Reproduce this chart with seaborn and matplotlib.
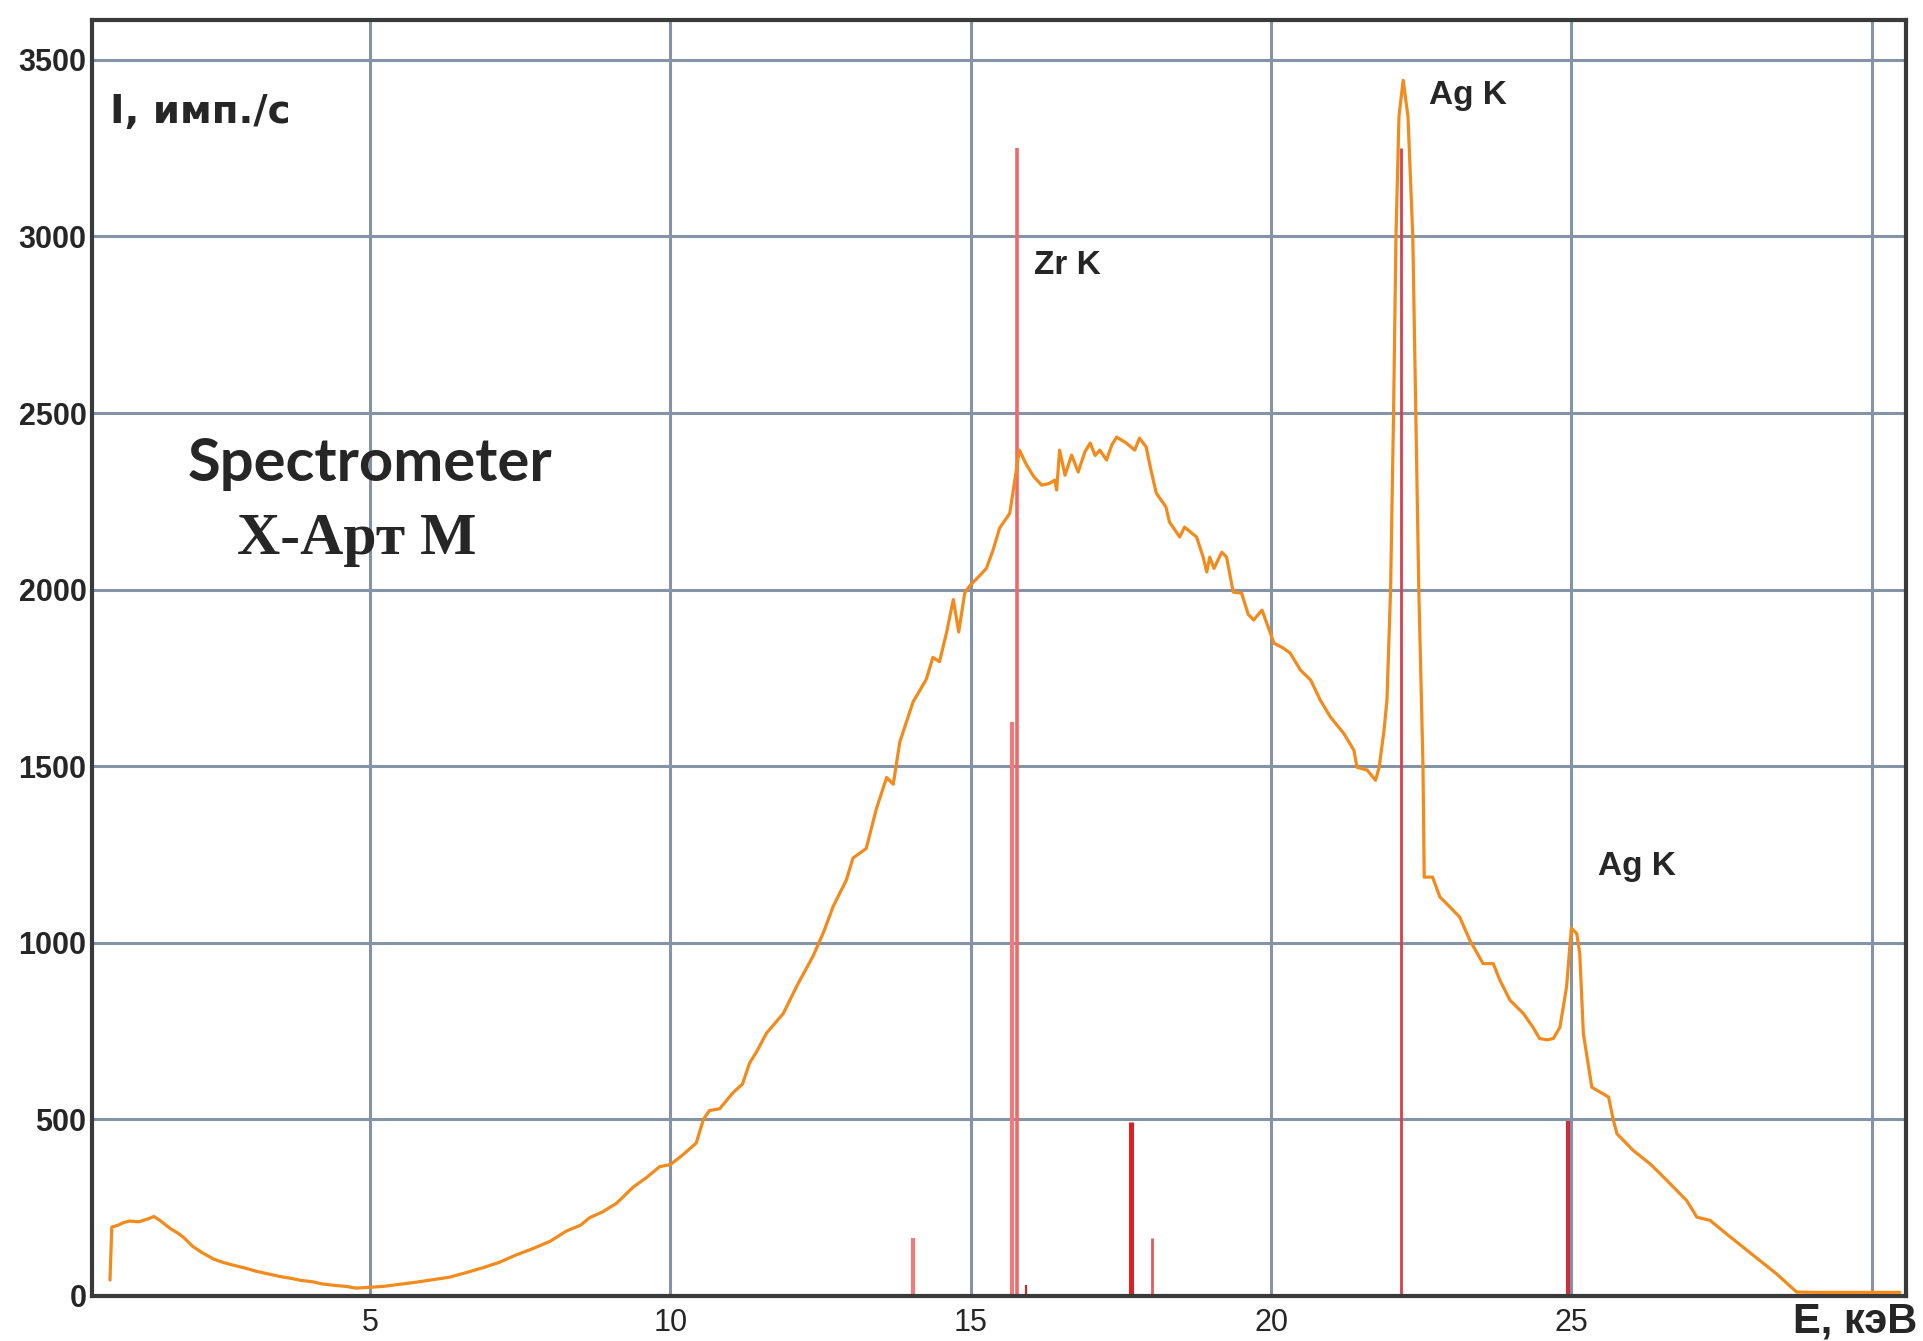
import matplotlib
matplotlib.use("Agg")
import matplotlib.pyplot as plt
import seaborn as sns
import pandas as pd

# spectrum: energy (keV) and intensity (imp./s)
energy = [0.67, 0.70, 0.80, 0.90, 1.00, 1.15, 1.30, 1.40, 1.50, 1.68, 1.80, 1.90,
          2.05, 2.20, 2.40, 2.57, 2.75, 2.94, 3.10, 3.31, 3.50, 3.68, 3.85, 4.05,
          4.20, 4.40, 4.60, 4.77, 4.95, 5.22, 5.50, 5.77, 6.05, 6.32, 6.60, 6.88,
          7.15, 7.43, 7.71, 8.00, 8.27, 8.50, 8.66, 8.87, 9.10, 9.38, 9.60, 9.82,
          10.00, 10.21, 10.43, 10.55, 10.65, 10.82, 11.04, 11.20, 11.32, 11.43, 11.60, 11.88,
          12.10, 12.38, 12.55, 12.71, 12.93, 13.04, 13.26, 13.43, 13.60, 13.71, 13.82, 14.04,
          14.26, 14.37, 14.48, 14.60, 14.71, 14.80, 14.90, 14.98, 15.15, 15.26, 15.37, 15.48,
          15.65, 15.81, 15.93, 16.05, 16.18, 16.30, 16.40, 16.43, 16.48, 16.57, 16.68, 16.79,
          16.90, 16.99, 17.07, 17.15, 17.26, 17.35, 17.43, 17.59, 17.73, 17.81, 17.92, 18.00,
          18.09, 18.25, 18.31, 18.48, 18.56, 18.76, 18.87, 18.93, 18.98, 19.05, 19.18, 19.26,
          19.37, 19.51, 19.62, 19.71, 19.85, 20.05, 20.20, 20.32, 20.49, 20.66, 20.82, 20.99,
          21.21, 21.38, 21.43, 21.60, 21.74, 21.80, 21.88, 21.93, 21.99, 22.04, 22.08, 22.13,
          22.20, 22.28, 22.36, 22.41, 22.46, 22.53, 22.55, 22.69, 22.81, 22.98, 23.14, 23.31,
          23.53, 23.70, 23.81, 23.98, 24.20, 24.36, 24.47, 24.60, 24.70, 24.81, 24.92, 25.00,
          25.09, 25.14, 25.20, 25.34, 25.48, 25.62, 25.70, 25.76, 26.03, 26.31, 26.48, 26.70,
          26.92, 27.09, 27.31, 27.58, 27.86, 28.14, 28.42, 28.75, 29.08, 29.64, 30.47]
counts = [45, 195, 200, 208, 212, 210, 218, 225, 214, 190, 178, 165,
          140, 123, 104, 94, 86, 78, 70, 62, 55, 50, 44, 40,
          34, 30, 27, 22, 24, 27, 33, 39, 46, 53, 66, 80,
          95, 116, 134, 155, 184, 200, 222, 238, 262, 308, 335, 366,
          372, 400, 433, 500, 525, 530, 575, 600, 660, 690, 744, 800,
          876, 964, 1030, 1103, 1178, 1240, 1267, 1380, 1468, 1449, 1569, 1682,
          1746, 1808, 1796, 1880, 1972, 1880, 1990, 2010, 2040, 2060, 2111, 2174,
          2216, 2395, 2353, 2320, 2296, 2300, 2310, 2282, 2395, 2324, 2381, 2333,
          2390, 2415, 2380, 2395, 2367, 2410, 2432, 2415, 2395, 2429, 2404, 2339,
          2273, 2234, 2191, 2149, 2177, 2149, 2092, 2050, 2092, 2060, 2106, 2092,
          1993, 1990, 1930, 1914, 1942, 1848, 1835, 1820, 1772, 1744, 1687, 1639,
          1593, 1545, 1497, 1489, 1460, 1497, 1600, 1687, 1999, 2500, 3000, 3340,
          3442, 3340, 3000, 2500, 2000, 1500, 1186, 1186, 1130, 1101, 1073, 1007,
          941, 941, 894, 837, 800, 761, 729, 725, 729, 761, 875, 1041,
          1026, 969, 743, 591, 577, 563, 497, 459, 412, 374, 346, 308,
          270, 223, 214, 176, 138, 100, 62, 11, 10, 10, 10]

# reference line positions (keV) and heights
line_energy = [14.04, 15.69, 15.77, 15.92, 17.67, 18.02, 22.16, 24.94]
line_height = [165, 1625, 3250, 30, 492, 164, 3250, 494]

x_ticks = [5, 10, 15, 20, 25, 30]
x_tick_labels = ["5", "10", "15", "20", "25", ""]
y_ticks = [0, 500, 1000, 1500, 2000, 2500, 3000, 3500]

# styles
line_colors = ["#f27a7a", "#f27a7a", "#f06868", "#c03030", "#e01e24", "#e85a5a", "#d6404e", "#c8303e"]
line_widths = [3.0, 3.0, 2.6, 1.6, 3.6, 2.0, 2.0, 3.0]
SANS = ["Liberation Sans", "DejaVu Sans"]

df = pd.DataFrame({"E": energy, "I": counts})

sns.set_theme(style="white")
plt.rcParams["font.family"] = ["DejaVu Sans"]

fig = plt.figure(figsize=(19.24, 13.41), dpi=100)
ax = fig.add_axes([0.0478, 0.0336, 0.9428, 0.9515])

ax.set_xlim(0.37, 30.57)
ax.set_ylim(0, 3613)
ax.set_xticks(x_ticks)
ax.set_yticks(y_ticks)
ax.grid(True, color="#8494a6", lw=2.2)
ax.set_axisbelow(True)

ax.vlines(line_energy, 0, line_height, colors=line_colors, linewidths=line_widths, zorder=2)
sns.lineplot(data=df, x="E", y="I", ax=ax, color="#f28a1c", lw=2.3,
             estimator=None, sort=False, zorder=3)

ax.set_xlabel("")
ax.set_ylabel("")
ax.set_xticklabels(x_tick_labels, fontsize=22, family=SANS)
ax.set_yticklabels([str(v) for v in y_ticks], fontsize=22, fontweight="bold", family=SANS)
ax.tick_params(axis="x", length=0, pad=9)
ax.tick_params(axis="y", length=0, pad=4)

for s in ax.spines.values():
    s.set_color("#3a3a3a")
    s.set_linewidth(3)

ax.text(0.67, 3352, "I, имп./с", fontsize=28, fontweight="bold",
        family=["DejaVu Sans"], va="center", ha="left")
ax.text(5.0, 2308, "Spectrometer", fontsize=43, fontweight="bold",
        family=["Lato", "DejaVu Sans"], va="baseline", ha="center")
ax.text(2.78, 2100, "X-Арт M", fontsize=43, fontweight="bold",
        family=["Liberation Serif", "DejaVu Serif"], va="baseline", ha="left")
ax.text(16.05, 2919, "Zr K", fontsize=24, fontweight="bold", family=SANS, va="center", ha="left")
ax.text(22.63, 3398, "Ag K", fontsize=24, fontweight="bold", family=SANS, va="center", ha="left")
ax.text(25.44, 1217, "Ag K", fontsize=24, fontweight="bold", family=SANS, va="center", ha="left")

fig.text(0.9964, 0.0142, "E, кэВ", fontsize=30, fontweight="bold", family=SANS,
         ha="right", va="center")

fig.savefig("out.png", dpi=100)
